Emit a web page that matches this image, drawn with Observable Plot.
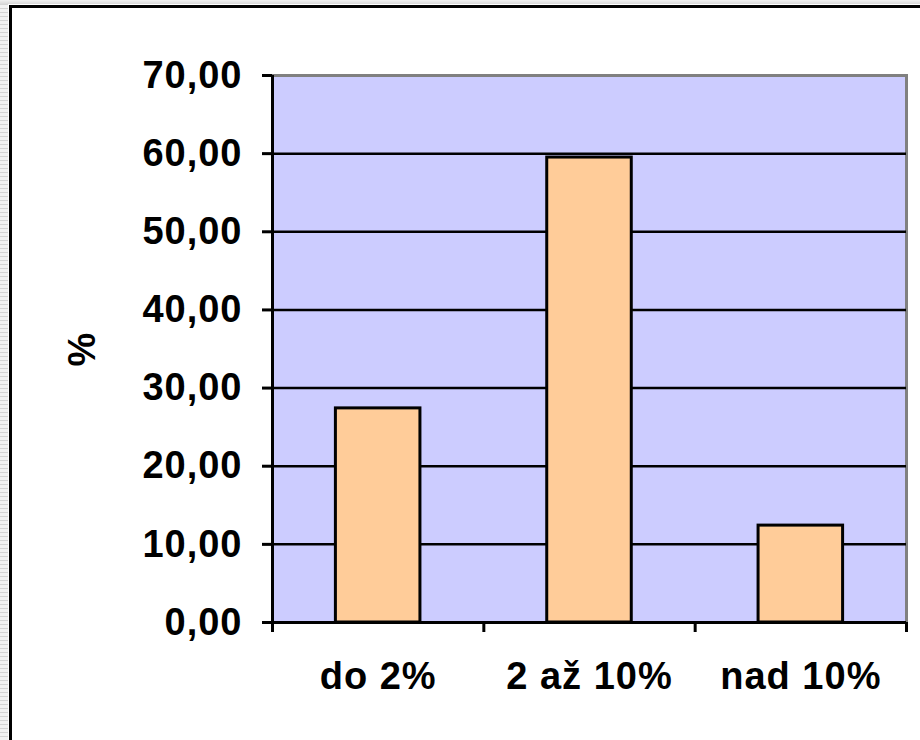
<!DOCTYPE html>
<html>
<head>
<meta charset="utf-8">
<script src="https://cdn.jsdelivr.net/npm/d3@7"></script>
<script src="https://cdn.jsdelivr.net/npm/@observablehq/plot@0.6"></script>
<style>
  html, body { margin: 0; padding: 0; background: #fff; }
  #wrap { position: relative; width: 920px; height: 740px; overflow: hidden; background: #fff; }
  #stripeL { position: absolute; left: 0; top: 0; width: 8px; height: 740px;
    background: repeating-linear-gradient(to bottom, #d4d4d4 0px, #d4d4d4 1px, #f2f2f2 1px, #f2f2f2 4px); }
  #stripeT { position: absolute; left: 0; top: 0; width: 920px; height: 4px;
    background: linear-gradient(to bottom, #f0f0f0, #d8d8d8); }
  #frame { position: absolute; left: 9px; top: 5px; width: 920px; height: 740px;
    border-left: 3px solid #000; border-top: 3px solid #000; box-sizing: border-box; }
  #chart { position: absolute; left: 0; top: 0; }
</style>
</head>
<body>
<div id="wrap">
  <div id="stripeL"></div>
  <div id="stripeT"></div>
  <div id="frame"></div>
  <div id="chart"></div>
</div>
<script>
const categories = ["do 2%", "2 až 10%", "nad 10%"];
const values = [27.4, 59.5, 12.4];
const yTicks = [0, 10, 20, 30, 40, 50, 60, 70];
const yLabel = "%";

const data = categories.map((c, i) => ({category: c, index: i, value: values[i]}));
const fmt = d => d3.format(".2f")(d).replace(".", ",");
const font = "'Liberation Sans', Arial, sans-serif";

const chart = Plot.plot({
  width: 920,
  height: 740,
  marginLeft: 272,
  marginRight: 14,
  marginTop: 75,
  marginBottom: 118,
  style: {fontFamily: font, fontWeight: "bold", fontSize: "38px", color: "#000", background: "transparent", letterSpacing: "1px"},
  x: {domain: [0, categories.length]},
  y: {domain: [0, 70], labelArrow: "none"},
  marks: [
    Plot.frame({fill: "#ccccff", stroke: "#808080", strokeWidth: 3}),
    Plot.ruleY(yTicks.filter(t => t > 0 && t < 70), {stroke: "#000", strokeWidth: 2.5}),
    Plot.rectY(data, {x1: d => d.index + 0.3, x2: d => d.index + 0.7, y: "value", fill: "#ffcc99", stroke: "#000", strokeWidth: 3}),
    Plot.ruleX([0], {stroke: "#000", strokeWidth: 3}),
    Plot.ruleY([0], {stroke: "#000", strokeWidth: 3}),
    Plot.axisY({ticks: yTicks, tickSize: 10, tickPadding: 20, tickFormat: fmt, strokeWidth: 3,
      fontSize: 38, fontWeight: "bold", label: yLabel, labelArrow: "none", labelAnchor: "center", labelOffset: 204}),
    Plot.axisX({ticks: d3.range(categories.length + 1), tickSize: 10, tickFormat: () => "", strokeWidth: 3, label: null}),
    Plot.axisX({ticks: categories.map((c, i) => i + 0.5), tickSize: 0, tickPadding: 40,
      tickFormat: d => categories[Math.floor(d)], fontSize: 38, fontWeight: "bold", label: null})
  ]
});
document.getElementById("chart").appendChild(chart);
</script>
</body>
</html>
